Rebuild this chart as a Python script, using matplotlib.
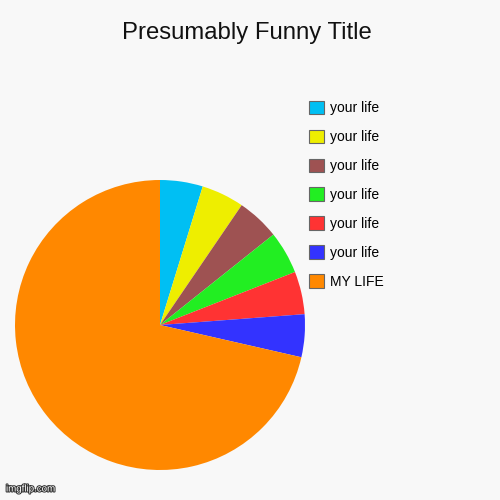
import matplotlib
matplotlib.use("Agg")
import matplotlib.pyplot as plt
import matplotlib.patheffects as pe

plt.rcParams["font.family"] = ["Liberation Sans", "DejaVu Sans"]

BG = "#F8F8F8"

labels = ["your life", "your life", "your life", "your life", "your life", "your life", "MY LIFE"]
values = [1, 1, 1, 1, 1, 1, 15]
colors = ["#00BFF3", "#EEEE00", "#9E5252", "#22EE22", "#FF3333", "#3333FF", "#FF8800"]

fig = plt.figure(figsize=(5, 5), dpi=100, facecolor=BG)
ax = fig.add_axes([0.03, 0.06, 0.58, 0.58])
ax.set_facecolor(BG)
wedges, _ = ax.pie(values, colors=colors, startangle=90, counterclock=False,
                   wedgeprops=dict(linewidth=0))
ax.set_xlim(-1, 1)
ax.set_ylim(-1, 1)
ax.set_aspect("equal")

fig.text(0.494, 0.934, "Presumably Funny Title", ha="center", va="center",
         fontsize=17.2, color="#111111")

handles = [plt.Rectangle((0, 0), 1, 1, facecolor=c, edgecolor="#666666", lw=0.8)
           for c in colors]
fig.legend(handles, labels, loc="upper left", bbox_to_anchor=(0.606, 0.810),
           frameon=False, fontsize=10, handlelength=1.1, handleheight=1.1,
           handletextpad=0.45, labelspacing=1.05, borderaxespad=0)

fig.text(0.012, 0.013, "imgflip.com", ha="left", va="bottom", fontsize=7,
         color="white", path_effects=[pe.withStroke(linewidth=1.5, foreground="#333333")])

fig.savefig("out.png", dpi=100, facecolor=BG)
